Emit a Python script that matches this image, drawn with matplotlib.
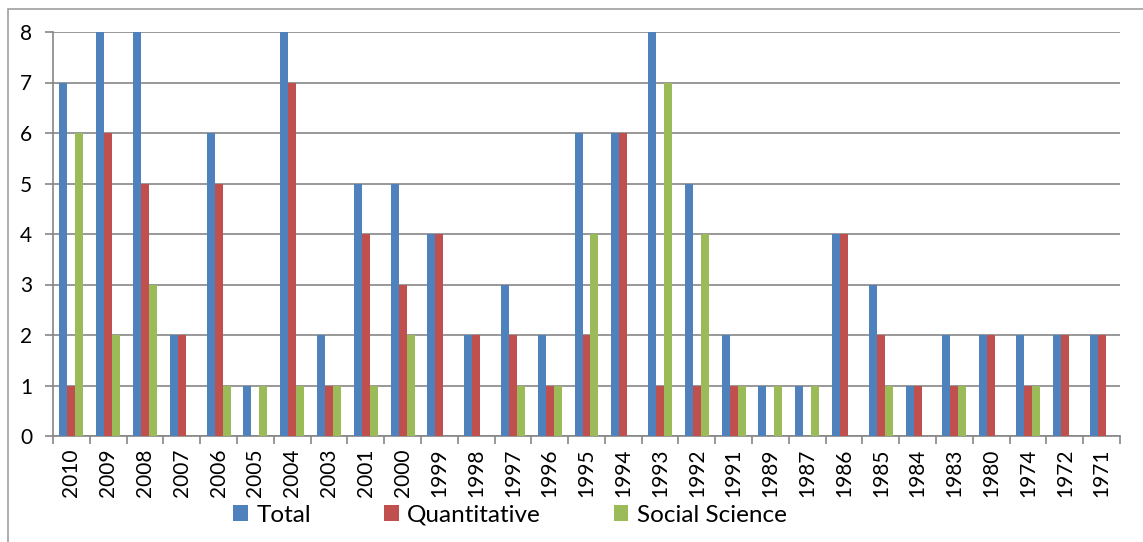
import numpy as np
import matplotlib.pyplot as plt
from matplotlib.patches import Rectangle

years = ['2010', '2009', '2008', '2007', '2006', '2005', '2004', '2003', '2001', '2000',
         '1999', '1998', '1997', '1996', '1995', '1994', '1993', '1992', '1991', '1989',
         '1987', '1986', '1985', '1984', '1983', '1980', '1974', '1972', '1971']
total = [7, 8, 8, 2, 6, 1, 8, 2, 5, 5, 4, 2, 3, 2, 6, 6, 8, 5, 2, 1, 1, 4, 3, 1, 2, 2, 2, 2, 2]
quant = [1, 6, 5, 2, 5, 0, 7, 1, 4, 3, 4, 2, 2, 1, 2, 6, 1, 1, 1, 0, 0, 4, 2, 1, 1, 2, 1, 2, 2]
social = [6, 2, 3, 0, 1, 1, 1, 1, 1, 2, 0, 0, 1, 1, 4, 0, 7, 4, 1, 1, 1, 0, 1, 0, 1, 0, 1, 0, 0]

plt.rcParams['font.family'] = ['Lato', 'DejaVu Sans']

W, H = 1143, 542
fig = plt.figure(figsize=(W / 100, H / 100), dpi=100)
ax = fig.add_axes([53 / W, 1 - 436 / H, (1120 - 53) / W, (436 - 32) / H])

# outer chart frame
fig.patches.append(Rectangle((8 / W, -0.1), 1.2, 1 - 9 / H + 0.1, transform=fig.transFigure,
                             fill=False, edgecolor='#a0a0a0', linewidth=1.2))

x = np.arange(len(years))
w = 0.217
ax.bar(x - w, total, w, color='#4f81bd', label='Total', zorder=3)
ax.bar(x, quant, w, color='#c0504d', label='Quantitative', zorder=3)
ax.bar(x + w, social, w, color='#9bbb59', label='Social Science', zorder=3)

ax.set_xlim(-0.5, len(years) - 0.5)
ax.set_ylim(0, 8)
ax.set_yticks(range(9))
ax.yaxis.grid(True, color='#868686', linewidth=1.2, zorder=0)

ax.set_xticks(x)
ax.set_xticklabels(years, rotation=90, fontsize=15)
ax.set_xticks(np.arange(-0.5, len(years), 1), minor=True)
ax.tick_params(axis='x', which='major', length=0, pad=9)
ax.tick_params(axis='x', which='minor', length=6, color='#868686', width=1.2)
ax.tick_params(axis='y', length=6, color='#868686', width=1.2, pad=9, labelsize=15)

for s in ['top', 'right']:
    ax.spines[s].set_visible(False)
for s in ['left', 'bottom']:
    ax.spines[s].set_color('#868686')
    ax.spines[s].set_linewidth(1.2)

fig.legend(loc='center', bbox_to_anchor=(510 / W, 1 - 515 / H), ncol=3, frameon=False,
           fontsize=17.5, handlelength=0.6, handleheight=0.6, handletextpad=0.35,
           columnspacing=3.0)

fig.savefig('out.png', dpi=100)
